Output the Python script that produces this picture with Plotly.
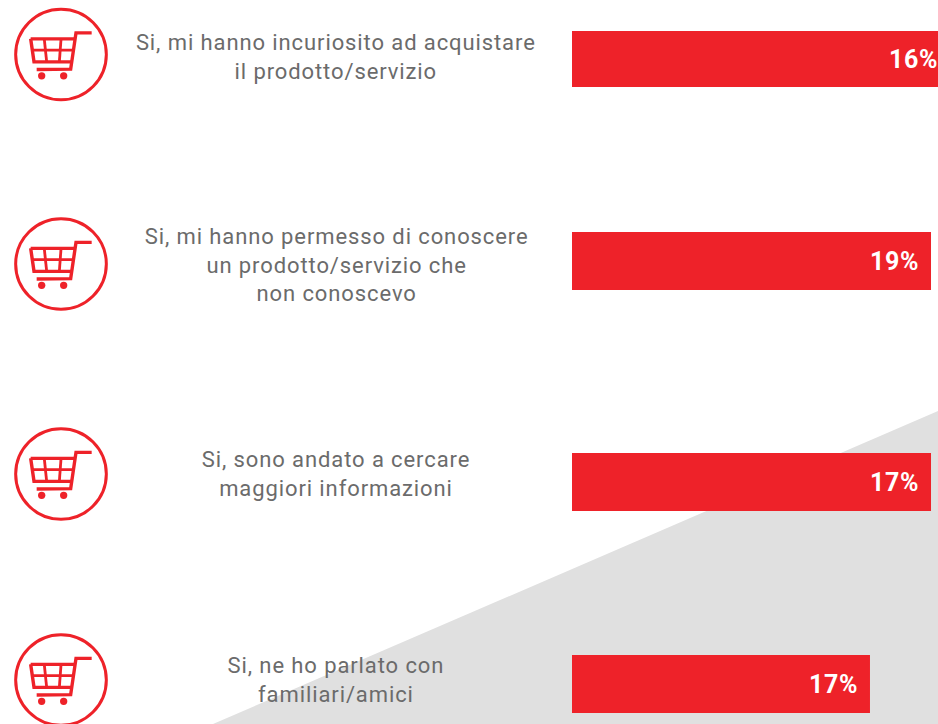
import plotly.graph_objects as go

W, H = 938, 724

# Data
categories = [
    "Si, mi hanno incuriosito ad acquistare<br>il prodotto/servizio",
    "Si, mi hanno permesso di conoscere<br>un prodotto/servizio che<br>non conoscevo",
    "Si, sono andato a cercare<br>maggiori informazioni",
    "Si, ne ho parlato con<br>familiari/amici",
]
value_labels = ["16%", "19%", "17%", "17%"]
# drawn bar lengths (the first runs off the page)
bar_lengths = [20.05, 19.0, 19.0, 15.77]

# Layout constants
RED, GREY, TEXT = "#EE2229", "#E0E0E0", "#6B6B6B"
row_y = [59, 261, 482, 684]
row_h = [56, 58, 58, 58]
text_y = [57, 265, 474, 680]
icon_y = [54.5, 264, 474, 680]
ICON_X = 61
X_MAX = 19.37
PX = X_MAX / (W - 572)
LABEL_PAD = 12 * PX
LABEL_DROP = 2.5

px = lambda x: x / W
py = lambda y: 1 - y / H

shapes = [dict(type="path", xref="paper", yref="paper", layer="below",
               path=f"M {px(938)} {py(411)} L {px(938)} {py(724)} L {px(213)} {py(724)} Z",
               fillcolor=GREY, line_width=0)]


def icon(cx, cy):
    out = []
    def P(X, Y):
        return px(cx + (X - 183) / 3), py(cy + (Y - 163) / 3)
    def line(pts, w=2.6):
        d = " ".join(("M" if i == 0 else "L") + f" {P(*p)[0]} {P(*p)[1]}" for i, p in enumerate(pts))
        out.append(dict(type="path", xref="paper", yref="paper", path=d,
                        line=dict(color=RED, width=w), fillcolor="rgba(0,0,0,0)"))
    def disc(X, Y, r, fill, w=0):
        x0, y0 = P(X - r, Y - r)
        x1, y1 = P(X + r, Y + r)
        out.append(dict(type="circle", xref="paper", yref="paper", x0=x0, x1=x1, y0=y0, y1=y1,
                        fillcolor=fill, line=dict(color=RED, width=w)))
    disc(183, 163, 136, "rgba(0,0,0,0)", 3)
    line([(275, 98), (228, 98), (212, 207), (110, 208)], 3.4)
    line([(92, 116), (226, 116)], 3.4)
    line([(92, 116), (102, 185), (216, 185)], 3.4)
    line([(97, 150), (222, 150)], 2.8)
    line([(133, 118), (140, 185)], 2.8)
    line([(183, 118), (178, 185)], 2.8)
    disc(125, 227, 11, RED)
    disc(191, 227, 11, RED)
    return out


for y in icon_y:
    shapes += icon(ICON_X, y)

annotations = [dict(text=t, xref="paper", yref="paper", x=px(336), y=py(y),
                    xanchor="center", yanchor="middle", align="center", showarrow=False,
                    font=dict(family="Roboto", size=22, color=TEXT))
               for t, y in zip(categories, text_y)]

fig = go.Figure()
fig.add_bar(x=bar_lengths, y=row_y, width=row_h, orientation="h",
            marker=dict(color=RED, line_width=0), hoverinfo="skip")
fig.add_scatter(x=[min(v - LABEL_PAD, X_MAX) for v in bar_lengths],
                y=[y + LABEL_DROP for y in row_y], mode="text",
                text=value_labels, textposition="middle left", cliponaxis=False,
                textfont=dict(family="Roboto", size=25, color="white", weight="bold"),
                hoverinfo="skip")
fig.update_layout(
    width=W, height=H, margin=dict(l=0, r=0, t=0, b=0), showlegend=False,
    paper_bgcolor="white", plot_bgcolor="rgba(0,0,0,0)",
    xaxis=dict(domain=[572 / W, 1], range=[0, X_MAX], visible=False),
    yaxis=dict(domain=[0, 1], range=[H, 0], visible=False),
    shapes=shapes, annotations=annotations,
)
post = """
document.body.style.margin = '0';
document.querySelectorAll('.annotation-text').forEach(function (t) { t.style.letterSpacing = '0.9px'; });
document.querySelectorAll('.textpoint text').forEach(function (t) { t.style.letterSpacing = '0.6px'; });
"""
fig.write_html("out.html", config={"displayModeBar": False, "responsive": False}, post_script=post)
